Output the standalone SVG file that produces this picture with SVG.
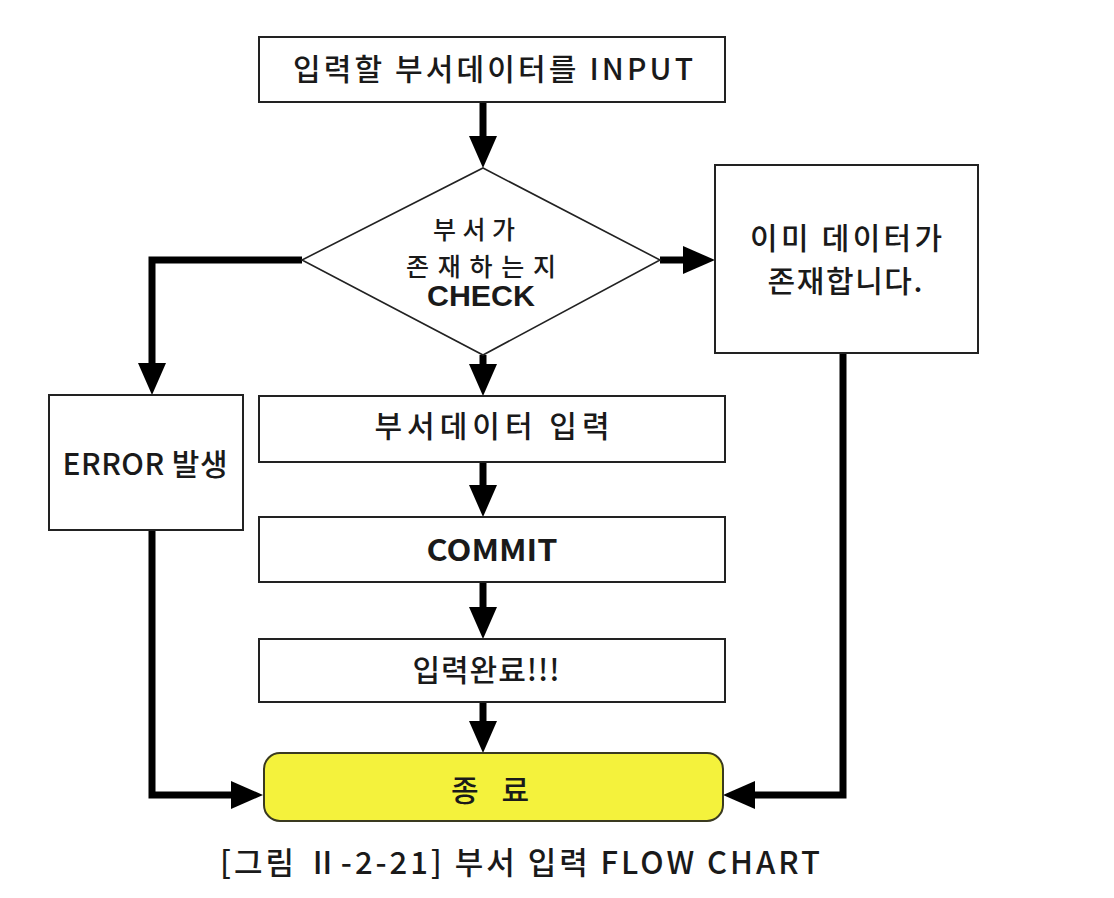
<svg xmlns="http://www.w3.org/2000/svg" width="1114" height="898" viewBox="0 0 1114 898">
<style>
.box{fill:#fff;stroke:#222;stroke-width:2}
.dia{fill:#fff;stroke:#222;stroke-width:1.6}
.term{fill:#f4f23c;stroke:#3a3a20;stroke-width:2}
.t{font-family:"Noto Sans CJK KR","Noto Sans",sans-serif;font-size:30px;font-weight:500;fill:#1a1a1a;text-anchor:middle}
.d{font-family:"Noto Sans CJK KR","Noto Sans",sans-serif;font-size:25px;font-weight:500;fill:#1a1a1a;text-anchor:middle}
.lat{font-family:"Noto Sans CJK KR","Noto Sans",sans-serif;font-size:30px;font-weight:700;fill:#1a1a1a;text-anchor:middle}
.ck{font-family:"Liberation Sans",sans-serif;font-size:29px;font-weight:700;fill:#1a1a1a;text-anchor:middle}
.cap{font-family:"Noto Sans CJK KR",sans-serif;font-size:31px;font-weight:500;fill:#1a1a1a;text-anchor:middle}
.c{fill:none;stroke:#000;stroke-width:7;marker-end:url(#ah)}
</style>
<defs>
<marker id="ah" markerUnits="userSpaceOnUse" markerWidth="34" markerHeight="32" refX="0" refY="15" orient="auto">
<path d="M0,1 L32,15 L0,29 z" fill="#000"/>
</marker>
</defs>
<rect width="1114" height="898" fill="#fff"/>
<g id="connectors">
<path class="c" d="M483,102 V136"/>
<path class="c" d="M302,260 H152 V363"/>
<path class="c" d="M660,260 H683"/>
<path class="c" d="M483,355 V364"/>
<path class="c" d="M483,462 V485"/>
<path class="c" d="M483,582 V607"/>
<path class="c" d="M483,702 V721"/>
<path class="c" d="M152,530 V795 H231"/>
<path class="c" d="M843,353 V795 H755"/>
</g>
<g id="input">
<rect class="box" x="259" y="37" width="466" height="65"/>
<text class="t" x="493" y="80" textLength="400" lengthAdjust="spacing">입력할 부서데이터를 INPUT</text>
</g>
<g id="check">
<polygon class="dia" points="483,168 660,260 483,355 302,260"/>
<text class="d" x="474" y="239" textLength="82" lengthAdjust="spacing">부서가</text>
<text class="d" x="481" y="276" textLength="150" lengthAdjust="spacing">존재하는지</text>
<text class="ck" x="481" y="306" textLength="108" lengthAdjust="spacingAndGlyphs">CHECK</text>
</g>
<g id="exists">
<rect class="box" x="715" y="165" width="263" height="188"/>
<text class="t" x="846" y="249" textLength="192" lengthAdjust="spacing">이미 데이터가</text>
<text class="t" x="845" y="292" textLength="155" lengthAdjust="spacing">존재합니다.</text>
</g>
<g id="error">
<rect class="box" x="49" y="395" width="194" height="135"/>
<text class="t" x="145" y="475" textLength="165" lengthAdjust="spacing">ERROR 발생</text>
</g>
<g id="insert">
<rect class="box" x="259" y="396" width="466" height="66"/>
<text class="t" x="492" y="437" textLength="235" lengthAdjust="spacing">부서데이터 입력</text>
</g>
<g id="commit">
<rect class="box" x="259" y="517" width="466" height="65"/>
<text class="lat" x="492" y="561" textLength="131" lengthAdjust="spacingAndGlyphs">COMMIT</text>
</g>
<g id="done">
<rect class="box" x="259" y="639" width="466" height="63"/>
<text class="t" x="486" y="681" textLength="147" lengthAdjust="spacing">입력완료!!!</text>
</g>
<g id="end">
<rect class="term" x="264" y="753" width="459" height="68" rx="16" ry="16"/>
<text class="t" x="490" y="801" textLength="78" lengthAdjust="spacing">종 료</text>
</g>
<text class="cap" x="520" y="874" textLength="600" lengthAdjust="spacing">[그림 Ⅱ-2-21] 부서 입력 FLOW CHART</text>
</svg>
